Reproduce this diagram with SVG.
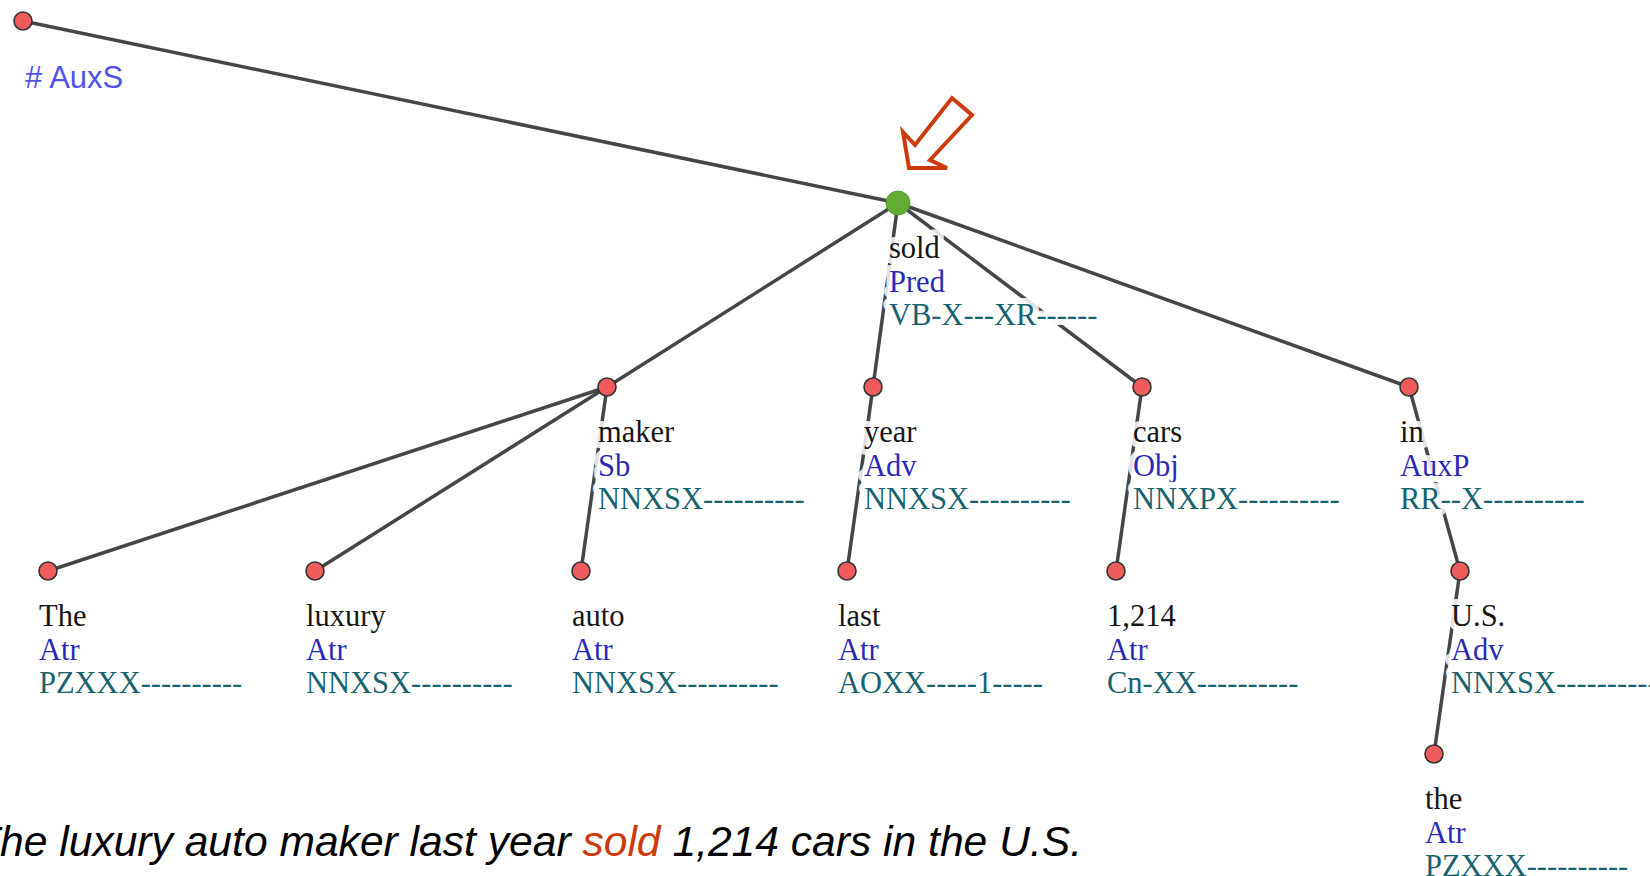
<svg xmlns="http://www.w3.org/2000/svg" width="1650" height="876" viewBox="0 0 1650 876">
<style>
.edge{stroke:#464646;stroke-width:3.5;stroke-linecap:round;fill:none}
.nd{fill:#f05c5c;stroke:#333;stroke-width:1.6}
.lbl{font-family:"Liberation Serif","Times New Roman",serif;font-size:30.5px;stroke:#fff;stroke-width:12;stroke-linejoin:round;stroke-opacity:0.85;paint-order:stroke}
.w{fill:#161616}
.r{fill:#2a2ab8}
.t{fill:#17636f}
</style>
<rect width="1650" height="876" fill="#fff"/>
<g id="connectors">
<line class="edge" x1="23" y1="21" x2="898" y2="203"/>
<line class="edge" x1="898" y1="203" x2="607" y2="387"/>
<line class="edge" x1="898" y1="203" x2="873" y2="387"/>
<line class="edge" x1="898" y1="203" x2="1142" y2="387"/>
<line class="edge" x1="898" y1="203" x2="1409" y2="387"/>
<line class="edge" x1="607" y1="387" x2="48" y2="571"/>
<line class="edge" x1="607" y1="387" x2="315" y2="571"/>
<line class="edge" x1="607" y1="387" x2="581" y2="571"/>
<line class="edge" x1="873" y1="387" x2="847" y2="571"/>
<line class="edge" x1="1142" y1="387" x2="1116" y2="571"/>
<line class="edge" x1="1409" y1="387" x2="1460" y2="571"/>
<line class="edge" x1="1460" y1="571" x2="1434" y2="754"/>
</g>
<g id="n-root">
<circle class="nd" cx="23" cy="21" r="9"/>
<text x="25" y="88" font-family="'Liberation Sans',Arial,sans-serif" font-size="31" fill="#5252e6">#  AuxS</text>
</g>
<g id="n-sold">
<circle cx="898" cy="203" r="12" fill="#62ad36" stroke="#579a2f" stroke-width="1"/>
<text class="lbl"><tspan class="w" x="889" y="258">sold</tspan><tspan class="r" x="889" y="291.5">Pred</tspan><tspan class="t" x="889" y="325">VB-X---XR------</tspan></text>
</g>
<g id="n-maker">
<circle class="nd" cx="607" cy="387" r="9"/>
<text class="lbl"><tspan class="w" x="598" y="442">maker</tspan><tspan class="r" x="598" y="475.5">Sb</tspan><tspan class="t" x="598" y="509">NNXSX----------</tspan></text>
</g>
<g id="n-year">
<circle class="nd" cx="873" cy="387" r="9"/>
<text class="lbl"><tspan class="w" x="864" y="442">year</tspan><tspan class="r" x="864" y="475.5">Adv</tspan><tspan class="t" x="864" y="509">NNXSX----------</tspan></text>
</g>
<g id="n-cars">
<circle class="nd" cx="1142" cy="387" r="9"/>
<text class="lbl"><tspan class="w" x="1133" y="442">cars</tspan><tspan class="r" x="1133" y="475.5">Obj</tspan><tspan class="t" x="1133" y="509">NNXPX----------</tspan></text>
</g>
<g id="n-in">
<circle class="nd" cx="1409" cy="387" r="9"/>
<text class="lbl"><tspan class="w" x="1400" y="442">in</tspan><tspan class="r" x="1400" y="475.5">AuxP</tspan><tspan class="t" x="1400" y="509">RR--X----------</tspan></text>
</g>
<g id="n-The">
<circle class="nd" cx="48" cy="571" r="9"/>
<text class="lbl"><tspan class="w" x="39" y="626">The</tspan><tspan class="r" x="39" y="659.5">Atr</tspan><tspan class="t" x="39" y="693">PZXXX----------</tspan></text>
</g>
<g id="n-luxury">
<circle class="nd" cx="315" cy="571" r="9"/>
<text class="lbl"><tspan class="w" x="306" y="626">luxury</tspan><tspan class="r" x="306" y="659.5">Atr</tspan><tspan class="t" x="306" y="693">NNXSX----------</tspan></text>
</g>
<g id="n-auto">
<circle class="nd" cx="581" cy="571" r="9"/>
<text class="lbl"><tspan class="w" x="572" y="626">auto</tspan><tspan class="r" x="572" y="659.5">Atr</tspan><tspan class="t" x="572" y="693">NNXSX----------</tspan></text>
</g>
<g id="n-last">
<circle class="nd" cx="847" cy="571" r="9"/>
<text class="lbl"><tspan class="w" x="838" y="626">last</tspan><tspan class="r" x="838" y="659.5">Atr</tspan><tspan class="t" x="838" y="693">AOXX-----1-----</tspan></text>
</g>
<g id="n-1214">
<circle class="nd" cx="1116" cy="571" r="9"/>
<text class="lbl"><tspan class="w" x="1107" y="626">1,214</tspan><tspan class="r" x="1107" y="659.5">Atr</tspan><tspan class="t" x="1107" y="693">Cn-XX----------</tspan></text>
</g>
<g id="n-US">
<circle class="nd" cx="1460" cy="571" r="9"/>
<text class="lbl"><tspan class="w" x="1451" y="626">U.S.</tspan><tspan class="r" x="1451" y="659.5">Adv</tspan><tspan class="t" x="1451" y="693">NNXSX----------</tspan></text>
</g>
<g id="n-the">
<circle class="nd" cx="1434" cy="754" r="9"/>
<text class="lbl"><tspan class="w" x="1425" y="809">the</tspan><tspan class="r" x="1425" y="842.5">Atr</tspan><tspan class="t" x="1425" y="876">PZXXX----------</tspan></text>
</g>
<g id="arrow">
<polygon points="909,168 947,168 930,160 972,115 952,98 915,145 903,132" fill="#fff" stroke="#cc3a0e" stroke-width="4" stroke-linejoin="miter"/>
</g>
<g id="sentence">
<text x="-26" y="856" font-family="'Liberation Sans',Arial,sans-serif" font-style="italic" font-size="42.6" fill="#000">The luxury auto maker last year <tspan fill="#cc3a0e">sold</tspan> 1,214 cars in the U.S.</text>
</g>
</svg>
